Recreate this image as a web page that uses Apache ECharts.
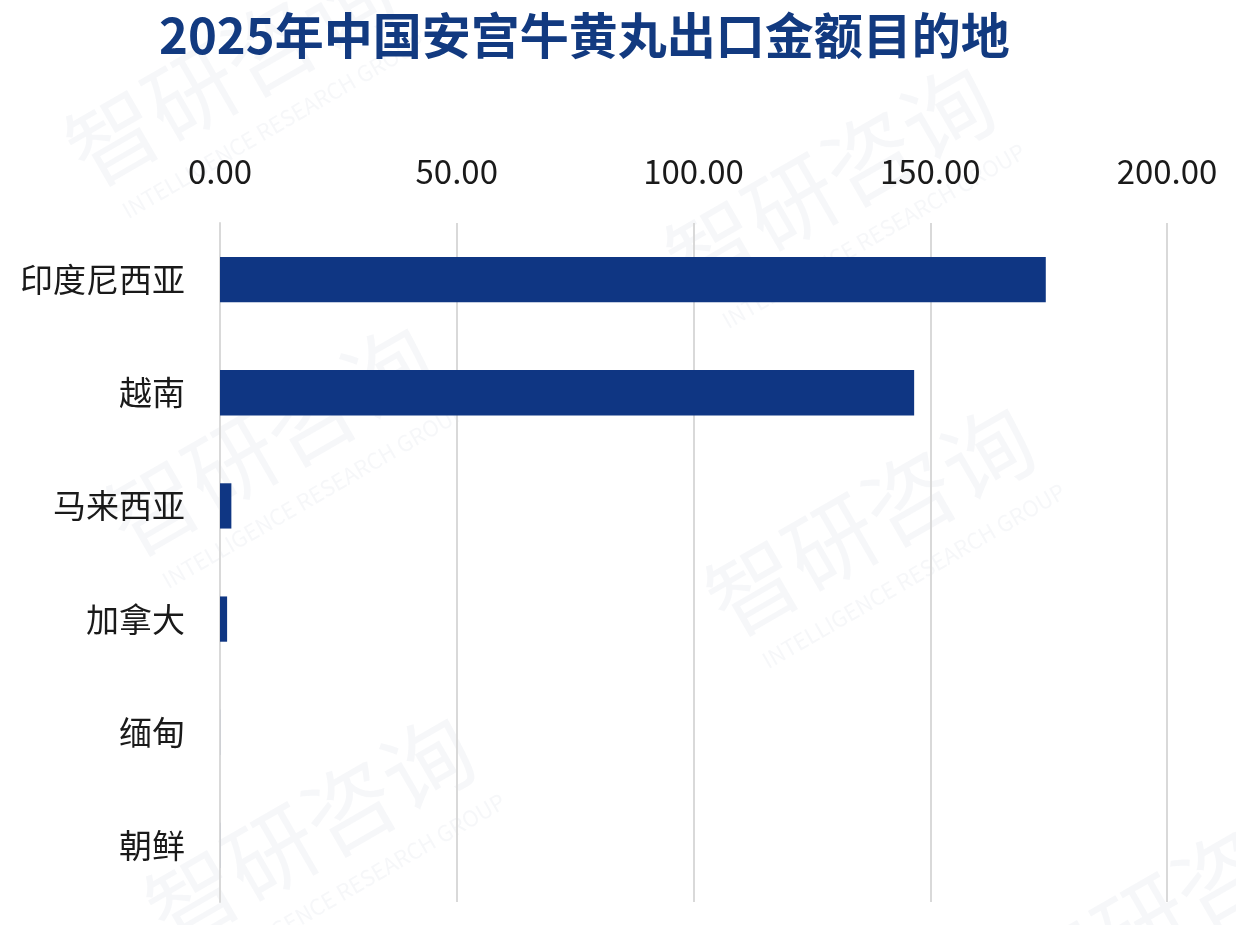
<!DOCTYPE html>
<html>
<head>
<meta charset="utf-8">
<script src="https://cdn.jsdelivr.net/npm/echarts@6/dist/echarts.min.js"></script>
<style>
  html, body { margin: 0; padding: 0; background: #fff; }
  #chart { width: 1236px; height: 925px; }
</style>
</head>
<body>
<div id="chart"></div>
<script>
var categories = ['印度尼西亚', '越南', '马来西亚', '加拿大', '缅甸', '朝鲜'];
var exportValues = [174.4, 146.6, 2.4, 1.5, 0.01, 0.01];
var axisTicks = [0, 50, 100, 150, 200];

var titleText = '2025年中国安宫牛黄丸出口金额目的地';
var font = '"Noto Sans CJK SC", "Noto Sans", sans-serif';

// faint watermark, like the source image
function watermark(x, y) {
    return {
        type: 'group',
        x: x, y: y,
        rotation: Math.PI / 6,
        silent: true,
        z: -10,
        children: [
            { type: 'text', style: { text: '智研咨询', x: 0, y: 0, font: '400 90px ' + font, fill: 'rgba(170,180,200,0.11)', align: 'center', verticalAlign: 'middle' } },
            { type: 'text', style: { text: 'INTELLIGENCE RESEARCH GROUP', x: 10, y: 70, font: '400 22px ' + font, fill: 'rgba(170,180,200,0.11)', align: 'center', verticalAlign: 'middle' } }
        ]
    };
}

var myChart = echarts.init(document.getElementById('chart'));
var option = {
    backgroundColor: '#fff',
    animation: false,
    title: {
        text: titleText,
        left: 154,
        top: 6,
        textStyle: {
            fontFamily: font,
            fontSize: 49,
            fontWeight: 'bold',
            color: '#123a80'
        }
    },
    graphic: [
        watermark(230, 70),
        watermark(830, 180),
        watermark(270, 440),
        watermark(870, 520),
        watermark(310, 830),
        watermark(1180, 900)
    ],
    grid: {
        left: 220,
        right: 69,
        top: 223,
        bottom: 23
    },
    xAxis: {
        type: 'value',
        position: 'top',
        min: axisTicks[0],
        max: axisTicks[axisTicks.length - 1],
        interval: 50,
        axisLine: { show: false },
        axisTick: { show: false },
        splitLine: { lineStyle: { color: '#d9d9d9', width: 2 } },
        axisLabel: {
            margin: 35,
            fontFamily: font,
            fontSize: 33,
            color: '#1a1a1a',
            formatter: function (v) { return v.toFixed(2); }
        }
    },
    yAxis: {
        type: 'category',
        inverse: true,
        data: categories,
        axisLine: { show: true, lineStyle: { color: '#d9d9d9', width: 2 } },
        axisTick: { show: false },
        axisLabel: {
            margin: 35,
            fontFamily: font,
            fontSize: 33,
            color: '#1a1a1a'
        }
    },
    series: [
        {
            type: 'bar',
            data: exportValues,
            barCategoryGap: '60%',
            itemStyle: { color: '#0f3683' }
        }
    ]
};
myChart.setOption(option);
</script>
</body>
</html>
